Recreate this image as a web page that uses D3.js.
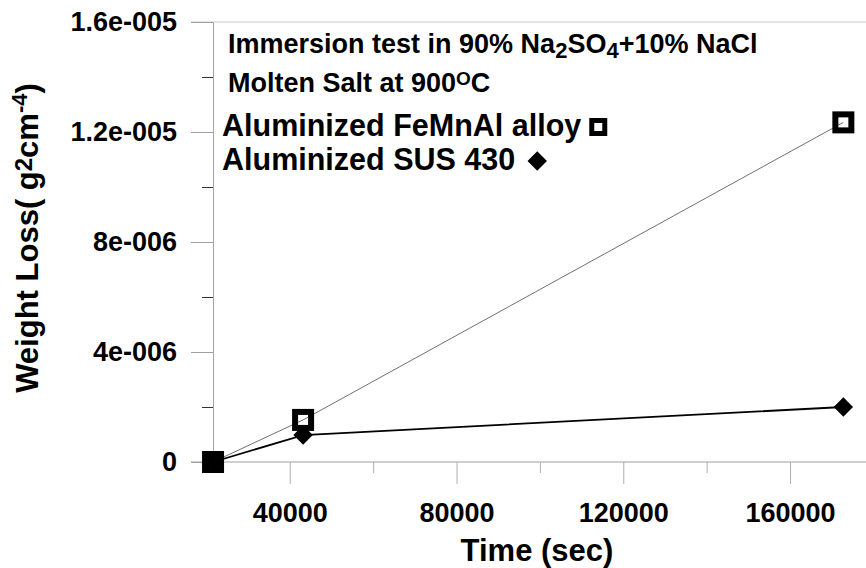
<!DOCTYPE html>
<html>
<head>
<meta charset="utf-8">
<script src="https://cdn.jsdelivr.net/npm/d3@7"></script>
<style>
  body { margin: 0; background: #fff; }
  text { font-family: "Liberation Sans", Arial, sans-serif; font-weight: bold; fill: #000; }
</style>
</head>
<body>
<div class="canvas"></div>
<script>
// data
const times = [21600, 43200, 172800]          // sec (6 h, 12 h, 48 h)
const femnalLoss = [0, 1.53e-6, 1.235e-5]     // Aluminized FeMnAl alloy
const susLoss = [0, 0.98e-6, 2.0e-6]          // Aluminized SUS 430
const xTicks = [40000, 80000, 120000, 160000]
const xMinorTicks = [20000, 60000, 100000, 140000]
const yTicks = [0, 4e-6, 8e-6, 1.2e-5, 1.6e-5]
const yTickLabels = ["0", "4e-006", "8e-006", "1.2e-005", "1.6e-005"]
const yMinorTicks = [2e-6, 6e-6, 1e-5, 1.4e-5]

const width = 866
const height = 568

const svg = d3.select(".canvas")
    .append("svg")
    .attr("width", width)
    .attr("height", height)

// scales
const x = d3.scaleLinear()
    .domain([0, 160000])
    .range([123, 790])

const y = d3.scaleLinear()
    .domain([0, 1.6e-5])
    .range([462, 22])

const axisX = x(times[0]) // y axis crosses at first time point
const majorLen = 22
const minorLen = 11

// top frame line
svg.append("line")
    .attr("x1", axisX - majorLen)
    .attr("x2", width)
    .attr("y1", y(1.6e-5))
    .attr("y2", y(1.6e-5))
    .attr("stroke", "#c8c8c8")
    .attr("stroke-width", 1)

// x axis line
svg.append("line")
    .attr("x1", axisX - majorLen)
    .attr("x2", width)
    .attr("y1", y(0))
    .attr("y2", y(0))
    .attr("stroke", "#a0a0a0")
    .attr("stroke-width", 1)

// y axis
const yAxisGroup = svg.append("g")
    .attr("transform", `translate(${axisX}, 0)`)
    .call(d3.axisLeft(y)
        .tickValues(yTicks)
        .tickSize(majorLen)
        .tickSizeOuter(0)
        .tickPadding(14)
        .tickFormat((d, i) => yTickLabels[i]))
yAxisGroup.select(".domain").attr("stroke", "#a0a0a0")
yAxisGroup.selectAll(".tick line").attr("stroke", "#a0a0a0")
yAxisGroup.selectAll("text")
    .attr("font-size", 27)
    .attr("fill", "#000")
    .attr("font-family", "'Liberation Sans', Arial, sans-serif")
    .attr("font-weight", "bold")

const yMinorGroup = svg.append("g")
    .attr("transform", `translate(${axisX}, 0)`)
    .call(d3.axisLeft(y)
        .tickValues(yMinorTicks)
        .tickSize(minorLen)
        .tickSizeOuter(0)
        .tickFormat(""))
yMinorGroup.select(".domain").remove()
yMinorGroup.selectAll(".tick line").attr("stroke", "#333")

// x axis
const xAxisGroup = svg.append("g")
    .attr("transform", `translate(0, ${y(0)})`)
    .call(d3.axisBottom(x)
        .tickValues(xTicks)
        .tickSize(majorLen)
        .tickSizeOuter(0)
        .tickPadding(19)
        .tickFormat(d3.format("d")))
xAxisGroup.select(".domain").remove()
xAxisGroup.selectAll(".tick line").attr("stroke", "#b0b0b0")
xAxisGroup.selectAll("text")
    .attr("font-size", 27)
    .attr("fill", "#000")
    .attr("font-family", "'Liberation Sans', Arial, sans-serif")
    .attr("font-weight", "bold")

const xMinorGroup = svg.append("g")
    .attr("transform", `translate(0, ${y(0)})`)
    .call(d3.axisBottom(x)
        .tickValues(xMinorTicks)
        .tickSize(minorLen)
        .tickSizeOuter(0)
        .tickFormat(""))
xMinorGroup.select(".domain").remove()
xMinorGroup.selectAll(".tick line").attr("stroke", "#b0b0b0")

// axis titles
svg.append("text")
    .attr("x", 537)
    .attr("y", 561)
    .attr("text-anchor", "middle")
    .attr("font-size", 31)
    .text("Time (sec)")

const yTitle = svg.append("text")
    .attr("transform", "translate(38, 238) rotate(-90)")
    .attr("text-anchor", "middle")
    .attr("font-size", 31)
yTitle.append("tspan").text("Weight Loss( g")
yTitle.append("tspan").attr("font-size", 24).attr("dy", -6).text("2")
yTitle.append("tspan").attr("dy", 6).text("cm")
yTitle.append("tspan").attr("font-size", 22).attr("dy", -11).text("-4")
yTitle.append("tspan").attr("dy", 11).text(")")

// series lines
const femnalPts = times.map((t, i) => [t, femnalLoss[i]])
const susPts = times.map((t, i) => [t, susLoss[i]])

const line = d3.line()
    .x(d => x(d[0]))
    .y(d => y(d[1]))

svg.append("path")
    .datum(femnalPts)
    .attr("d", line)
    .attr("fill", "none")
    .attr("stroke", "#707070")
    .attr("stroke-width", 1)

svg.append("path")
    .datum(susPts)
    .attr("d", line)
    .attr("fill", "none")
    .attr("stroke", "#000")
    .attr("stroke-width", 1.8)

// markers: open squares, then diamonds on top
const sq = 16
svg.selectAll(".sq")
    .data(femnalPts)
    .enter()
    .append("rect")
    .attr("class", "sq")
    .attr("x", d => x(d[0]) - sq / 2)
    .attr("y", d => y(d[1]) - sq / 2)
    .attr("width", sq)
    .attr("height", sq)
    .attr("fill", "none")
    .attr("stroke", "#000")
    .attr("stroke-width", 6)

const diamond = d3.symbol().type(d3.symbolDiamond2).size(240)
svg.selectAll(".dm")
    .data(susPts)
    .enter()
    .append("path")
    .attr("class", "dm")
    .attr("d", diamond)
    .attr("transform", d => `translate(${x(d[0])}, ${y(d[1])})`)
    .attr("fill", "#000")

// annotation text
const t1 = svg.append("text")
    .attr("x", 228)
    .attr("y", 53)
    .attr("font-size", 27)
t1.append("tspan").text("Immersion test in 90% Na")
t1.append("tspan").attr("font-size", 22).attr("dy", 5).text("2")
t1.append("tspan").attr("dy", -5).text("SO")
t1.append("tspan").attr("font-size", 22).attr("dy", 5).text("4")
t1.append("tspan").attr("dy", -5).text("+10% NaCl")

const t2 = svg.append("text")
    .attr("x", 228)
    .attr("y", 92)
    .attr("font-size", 27)
t2.append("tspan").text("Molten Salt at 900")
t2.append("tspan").attr("font-size", 19).attr("dy", -7).text("O")
t2.append("tspan").attr("dy", 7).text("C")

// legend
const legendRows = [
    { label: "Aluminized FeMnAl alloy", y: 136, marker: "square" },
    { label: "Aluminized SUS 430", y: 170, marker: "diamond" }
]

legendRows.forEach(r => {
    const txt = svg.append("text")
        .attr("x", 222)
        .attr("y", r.y)
        .attr("font-size", 30.5)
        .text(r.label)
    const end = txt.node().getComputedTextLength() + 222
    if (r.marker === "square") {
        svg.append("rect")
            .attr("x", end + 10.5)
            .attr("y", r.y - 15.5)
            .attr("width", 13)
            .attr("height", 13)
            .attr("fill", "none")
            .attr("stroke", "#000")
            .attr("stroke-width", 5)
    } else {
        svg.append("path")
            .attr("d", d3.symbol().type(d3.symbolDiamond2).size(240))
            .attr("transform", `translate(${end + 22}, ${r.y - 9})`)
            .attr("fill", "#000")
    }
})
</script>
</body>
</html>
